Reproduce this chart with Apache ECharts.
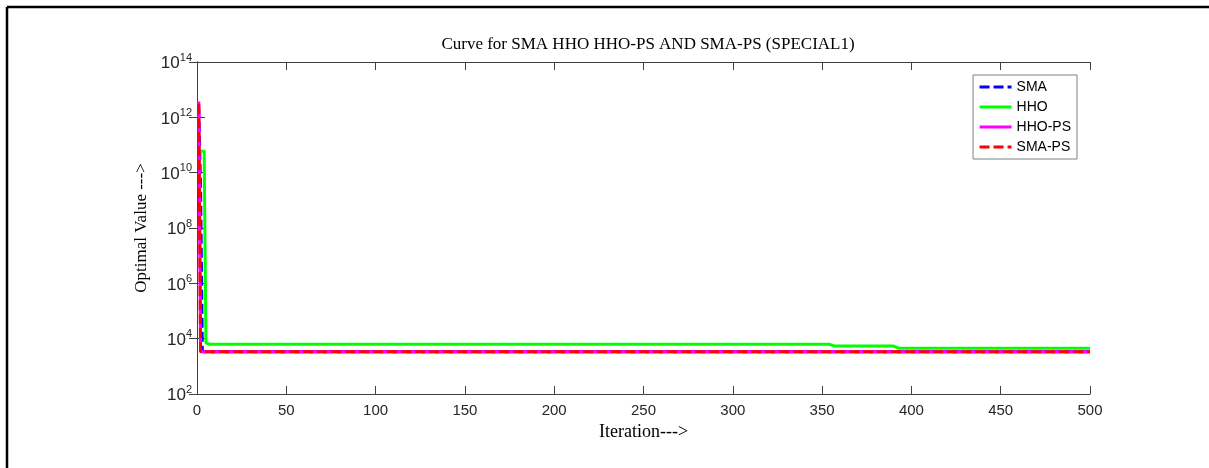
<!DOCTYPE html>
<html>
<head>
<meta charset="utf-8">
<script src="https://cdn.jsdelivr.net/npm/echarts@6/dist/echarts.min.js"></script>
<style>
  html, body { margin: 0; padding: 0; background: #fff; }
  #chart { width: 1209px; height: 468px; }
</style>
</head>
<body>
<div id="chart"></div>
<script>
// [iteration, best value] at the points where each curve changes
const smaPoints = [[1, 2.2e12], [2, 3.0e9], [3, 3400], [500, 3400]];
const hhoPoints = [[1, 6.0e10], [4, 6.0e10], [5, 7000], [7, 6300], [354, 6300], [357, 5400], [390, 5400], [393, 4500], [500, 4500]];
const hhoPsPoints = [[1, 3.7e12], [2, 3400], [500, 3400]];
const smaPsPoints = [[1, 3.0e12], [2, 3400], [500, 3400]];

const seriesNames = ["SMA", "HHO", "HHO-PS", "SMA-PS"];
const xTicks = [0, 50, 100, 150, 200, 250, 300, 350, 400, 450, 500];
const yExponents = [2, 4, 6, 8, 10, 12, 14];

const chart = echarts.init(document.getElementById("chart"));

const axisColor = "#404040";
const sans = "Liberation Sans, Arial, sans-serif";
const serif = "Liberation Serif, Times New Roman, serif";

function makeLine(name, data, color, dashed) {
  return {
    name,
    type: "line",
    data,
    symbol: "none",
    animation: false,
    lineStyle: { color, width: 3, type: dashed ? [10, 4] : "solid" },
    itemStyle: { color },
  };
}

chart.setOption({
  animation: false,
  title: {
    text: "Curve for SMA HHO HHO-PS AND SMA-PS (SPECIAL1)",
    left: 643,
    textAlign: "center",
    top: 31,
    textStyle: { fontFamily: serif, fontSize: 17, fontWeight: "normal", color: "#000" },
  },
  legend: {
    right: 132,
    top: 75,
    orient: "vertical",
    backgroundColor: "#fff",
    borderColor: "#808080",
    borderWidth: 1,
    borderRadius: 0,
    padding: [5, 6, 5, 5],
    itemWidth: 32,
    itemHeight: 12,
    itemGap: 6,
    itemStyle: { opacity: 0 },
    lineStyle: { width: 3 },
    textStyle: { fontFamily: sans, fontSize: 14, color: "#000" },
    data: seriesNames,
  },
  grid: { left: 197, right: 119, top: 62, bottom: 74 },
  xAxis: [
    {
      type: "value",
      min: xTicks[0],
      max: xTicks[xTicks.length - 1],
      interval: 50,
      name: "Iteration--->",
      nameLocation: "middle",
      nameGap: 27,
      nameTextStyle: { fontFamily: serif, fontSize: 18, color: "#000" },
      axisLine: { lineStyle: { color: axisColor } },
      axisTick: { inside: true, length: 8, lineStyle: { color: axisColor } },
      axisLabel: { fontFamily: sans, fontSize: 15, color: "#262626", margin: 9 },
      splitLine: { show: false },
    },
    {
      type: "value",
      position: "top",
      min: xTicks[0],
      max: xTicks[xTicks.length - 1],
      interval: 50,
      axisLine: { show: true, lineStyle: { color: axisColor } },
      axisTick: { inside: true, length: 8, lineStyle: { color: axisColor } },
      axisLabel: { show: false },
      splitLine: { show: false },
    },
  ],
  yAxis: [
    {
      type: "log",
      logBase: 10,
      min: Math.pow(10, yExponents[0]),
      max: Math.pow(10, yExponents[yExponents.length - 1]),
      interval: 2,
      name: "Optimal Value --->",
      nameLocation: "middle",
      nameGap: 40,
      nameTextStyle: { fontFamily: serif, fontSize: 17, color: "#000" },
      axisLine: { show: true, lineStyle: { color: axisColor } },
      axisTick: { inside: true, length: 8, lineStyle: { color: axisColor } },
      axisLabel: {
        margin: 5,
        formatter: (v) => {
          const e = Math.round(Math.log10(v));
          return "{b|10}{s|" + e + "}";
        },
        rich: {
          b: { fontFamily: sans, fontSize: 17, color: "#262626", verticalAlign: "bottom" },
          s: { fontFamily: sans, fontSize: 11, color: "#262626", verticalAlign: "top", padding: [0, 0, 9, 0] },
        },
      },
      splitLine: { show: false },
      minorTick: { show: false },
    },
    {
      type: "log",
      logBase: 10,
      position: "right",
      min: Math.pow(10, yExponents[0]),
      max: Math.pow(10, yExponents[yExponents.length - 1]),
      interval: 2,
      axisLine: { show: true, lineStyle: { color: axisColor } },
      axisTick: { inside: true, length: 8, lineStyle: { color: axisColor } },
      axisLabel: { show: false },
      splitLine: { show: false },
    },
  ],
  series: [
    makeLine("SMA", smaPoints, "#0000ff", true),
    makeLine("HHO", hhoPoints, "#00ff00", false),
    makeLine("HHO-PS", hhoPsPoints, "#ff00ff", false),
    makeLine("SMA-PS", smaPsPoints, "#ff0000", true),
  ],
  graphic: [
    { type: "line", shape: { x1: 7, y1: 7, x2: 1209, y2: 7 }, style: { stroke: "#000", lineWidth: 2.5 } },
    { type: "line", shape: { x1: 7, y1: 7, x2: 7, y2: 468 }, style: { stroke: "#000", lineWidth: 2.5 } },
  ],
});
</script>
</body>
</html>
